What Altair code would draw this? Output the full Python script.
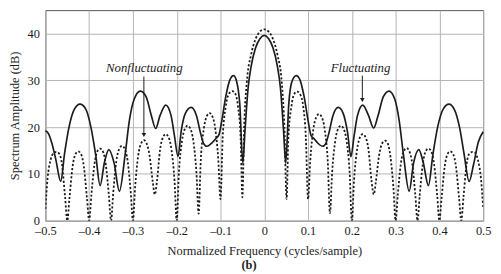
import altair as alt
import pandas as pd

# Fluctuating (solid) spectrum, dB
solid_x = [-0.5, -0.493, -0.485, -0.476, -0.465, -0.456, -0.446, -0.434, -0.421, -0.408, -0.396, -0.385, -0.375,
           -0.365, -0.355, -0.343, -0.331, -0.318, -0.308, -0.297, -0.283, -0.27, -0.258, -0.248, -0.238, -0.225,
           -0.213, -0.205, -0.197, -0.19, -0.18, -0.167, -0.155, -0.145, -0.138, -0.131, -0.12, -0.109, -0.103,
           -0.097, -0.088, -0.079, -0.07, -0.063, -0.056, -0.049, -0.044, -0.037, -0.03, -0.02, -0.01, 0.0,
           0.01, 0.02, 0.03, 0.037, 0.044, 0.049, 0.056, 0.063, 0.073, 0.082, 0.091, 0.1, 0.107, 0.113, 0.122,
           0.133, 0.14, 0.147, 0.157, 0.169, 0.18, 0.19, 0.198, 0.205, 0.213, 0.225, 0.238, 0.25, 0.26, 0.272,
           0.285, 0.298, 0.308, 0.318, 0.331, 0.341, 0.353, 0.363, 0.375, 0.385, 0.396, 0.409, 0.422, 0.434,
           0.446, 0.456, 0.468, 0.478, 0.489, 0.5]
solid_y = [19.2, 18.6, 16.5, 13.0, 8.4, 14.5, 20.0, 23.8, 24.9, 23.9, 20.0, 14.0, 7.5,
           12.5, 15.2, 12.3, 6.3, 14.0, 21.5, 26.0, 27.7, 26.5, 22.5, 19.7, 22.5, 24.7,
           22.5, 18.0, 13.7, 19.0, 23.0, 24.2, 22.5, 18.5, 16.4, 15.9, 16.6, 17.7, 18.5,
           21.4, 26.5, 30.0, 31.0, 29.7, 25.0, 12.3, 19.3, 28.3, 33.0, 36.9, 38.9, 39.6,
           38.9, 36.9, 33.0, 28.3, 19.3, 12.3, 25.0, 29.7, 31.0, 30.0, 26.5, 21.4, 18.2, 17.6, 16.6,
           15.9, 16.4, 18.5, 22.5, 24.2, 23.0, 19.0, 13.7, 18.0, 22.5, 24.7, 22.5, 19.8, 22.5, 26.5,
           27.7, 26.0, 21.5, 14.0, 6.3, 12.3, 15.2, 12.5, 7.5, 14.0, 20.0, 23.9, 24.9, 23.8,
           20.0, 14.5, 8.4, 12.0, 16.8, 19.0]

# Nonfluctuating (dotted) spectrum, dB
dot_x = [-0.5, -0.495, -0.488, -0.481, -0.475, -0.469, -0.462, -0.455, -0.45,
         -0.445, -0.438, -0.431, -0.425, -0.419, -0.412, -0.405, -0.4,
         -0.395, -0.388, -0.381, -0.375, -0.369, -0.362, -0.355, -0.35,
         -0.345, -0.338, -0.331, -0.325, -0.319, -0.312, -0.305, -0.3,
         -0.295, -0.288, -0.281, -0.275, -0.269, -0.262, -0.255, -0.25,
         -0.245, -0.238, -0.231, -0.225, -0.219, -0.212, -0.205, -0.2,
         -0.195, -0.188, -0.181, -0.175, -0.169, -0.162, -0.155, -0.15,
         -0.145, -0.138, -0.131, -0.125, -0.119, -0.112, -0.105, -0.1,
         -0.095, -0.088, -0.081, -0.073, -0.066, -0.06, -0.054, -0.05,
         -0.046, -0.04, -0.03, -0.02, -0.01, 0.0, 0.01, 0.02, 0.03, 0.04, 0.046,
         0.051, 0.055, 0.062, 0.068, 0.075, 0.082, 0.089, 0.095, 0.1,
         0.105, 0.112, 0.119, 0.125, 0.131, 0.138, 0.145, 0.15,
         0.155, 0.162, 0.169, 0.175, 0.181, 0.188, 0.195, 0.2,
         0.205, 0.212, 0.219, 0.225, 0.231, 0.238, 0.245, 0.25,
         0.255, 0.262, 0.269, 0.276, 0.282, 0.288, 0.295, 0.3,
         0.305, 0.312, 0.319, 0.325, 0.331, 0.338, 0.345, 0.35,
         0.355, 0.362, 0.369, 0.375, 0.381, 0.388, 0.395, 0.4,
         0.405, 0.412, 0.419, 0.425, 0.431, 0.438, 0.445, 0.45,
         0.455, 0.462, 0.469, 0.476, 0.482, 0.488, 0.495, 0.5]
dot_y = [2.5, 9.0, 13.0, 14.5, 14.7, 14.4, 12.0, 5.0, 0.0,
         4.8, 11.5, 14.3, 14.8, 14.3, 11.5, 4.8, 0.0,
         5.4, 12.0, 14.9, 15.4, 14.9, 12.0, 5.4, 0.0,
         6.0, 12.7, 15.4, 16.0, 15.4, 12.7, 6.0, 0.0,
         7.2, 13.9, 16.6, 17.2, 16.6, 13.9, 8.5, 5.6,
         8.5, 15.2, 17.9, 18.5, 17.9, 15.2, 8.5, 0.0,
         10.3, 17.0, 19.7, 20.3, 19.7, 17.0, 10.3, 1.5,
         13.0, 19.7, 22.4, 23.0, 22.4, 19.7, 13.0, 4.6,
         17.7, 24.4, 27.1, 27.7, 27.1, 24.4, 17.7, 5.0,
         20.0, 29.5, 35.5, 38.8, 40.4, 40.9, 40.4, 38.8, 35.5, 29.5, 20.0,
         4.6, 17.7, 24.4, 27.0, 27.6, 27.0, 24.4, 17.7, 4.6,
         12.8, 19.5, 22.2, 22.8, 22.2, 19.5, 12.8, 1.6,
         10.3, 17.0, 19.7, 20.3, 19.7, 17.0, 10.3, 0.0,
         8.5, 15.2, 17.9, 18.5, 17.9, 15.2, 8.5, 5.6,
         8.4, 13.8, 16.5, 17.1, 16.5, 13.8, 7.1, 0.0,
         5.5, 12.2, 14.9, 15.5, 14.9, 12.2, 5.5, 0.0,
         5.4, 12.0, 14.9, 15.4, 14.9, 12.0, 5.4, 0.0,
         4.8, 11.5, 14.3, 14.8, 14.3, 11.5, 4.8, 0.0,
         5.0, 12.0, 14.4, 14.7, 14.5, 13.0, 9.0, 2.9]

x_ticks = [-0.5, -0.4, -0.3, -0.2, -0.1, 0.0, 0.1, 0.2, 0.3, 0.4, 0.5]
y_grid = [0, 5, 10, 15, 20, 25, 30, 35, 40, 45]

ann_labels = ["Nonfluctuating", "Fluctuating"]
ann_text_x = [-0.274, 0.22]
ann_text_y = [32.6, 32.6]
arrow_x = [-0.275, 0.224]
arrow_top = [30.8, 31.0]
arrow_tip = [18.3, 25.8]

panel_label = ["(b)"]

FONT = "Liberation Serif"
INK = "#1c1c1c"
FS = 12.6

solid_df = pd.DataFrame({"f": solid_x, "a": solid_y})
dot_df = pd.DataFrame({"f": dot_x, "a": dot_y})
ann_df = pd.DataFrame({"label": ann_labels, "tx": ann_text_x, "ty": ann_text_y,
                       "ax": arrow_x, "top": arrow_top, "tip": arrow_tip})
panel_df = pd.DataFrame({"label": panel_label})

xscale = alt.Scale(domain=[-0.5, 0.5], nice=False, zero=False)
yscale = alt.Scale(domain=[0, 45], nice=False)

x_axis = alt.Axis(
    values=x_ticks, title="Normalized Frequency (cycles/sample)",
    labelExpr="datum.value < -0.001 ? '\u2013' + format(-datum.value, '.1f') : (abs(datum.value) < 0.001 ? '0' : format(datum.value, '.1f'))",
    grid=True, gridColor="#b4b4b4", gridWidth=1, ticks=False, domain=False,
    labelFont=FONT, labelFontSize=FS, labelColor=INK, labelPadding=4, labelFlush=False,
    titleFont=FONT, titleFontSize=FS, titleFontWeight="normal", titleColor=INK, titlePadding=8,
)
y_axis = alt.Axis(
    values=y_grid, title="Spectrum Amplitude (dB)",
    labelExpr="datum.value % 10 == 0 ? format(datum.value, 'd') : ''",
    grid=True, gridColor="#b4b4b4", gridWidth=1, ticks=False, domain=False,
    labelFont=FONT, labelFontSize=FS, labelColor=INK, labelPadding=6,
    titleFont=FONT, titleFontSize=FS, titleFontWeight="normal", titleColor=INK, titlePadding=6,
)

solid = alt.Chart(solid_df).mark_line(
    color=INK, strokeWidth=1.7, interpolate="monotone"
).encode(
    x=alt.X("f:Q", scale=xscale, axis=x_axis),
    y=alt.Y("a:Q", scale=yscale, axis=y_axis),
)

dotted = alt.Chart(dot_df).mark_line(
    color=INK, strokeWidth=1.8, strokeDash=[2.2, 2], interpolate="monotone", clip=True
).encode(x="f:Q", y="a:Q")

arrows = alt.Chart(ann_df).mark_rule(color=INK, strokeWidth=1).encode(
    x="ax:Q", y="top:Q", y2="tip:Q"
)
heads = alt.Chart(ann_df).mark_point(
    shape="triangle-down", filled=True, color=INK, size=22, opacity=1
).encode(x="ax:Q", y="tip:Q")
labels = alt.Chart(ann_df).mark_text(
    font=FONT, fontSize=13, fontStyle="italic", color=INK, baseline="middle", align="center"
).encode(x="tx:Q", y="ty:Q", text="label:N")

panel = alt.Chart(panel_df).mark_text(
    font=FONT, fontSize=FS, fontWeight="bold", color=INK, baseline="middle", align="center"
).encode(x=alt.value(207), y=alt.value(259), text="label:N")

chart = alt.layer(solid, dotted, arrows, heads, labels, panel).properties(
    width=445, height=214,
    autosize=alt.AutoSizeParams(type="none"),
    padding={"left": 38, "top": 0, "right": 10, "bottom": 50},
    background="white",
).configure_view(stroke="#555555", strokeWidth=1)

chart.save("out.html", embed_options={"renderer": "svg", "actions": False})
